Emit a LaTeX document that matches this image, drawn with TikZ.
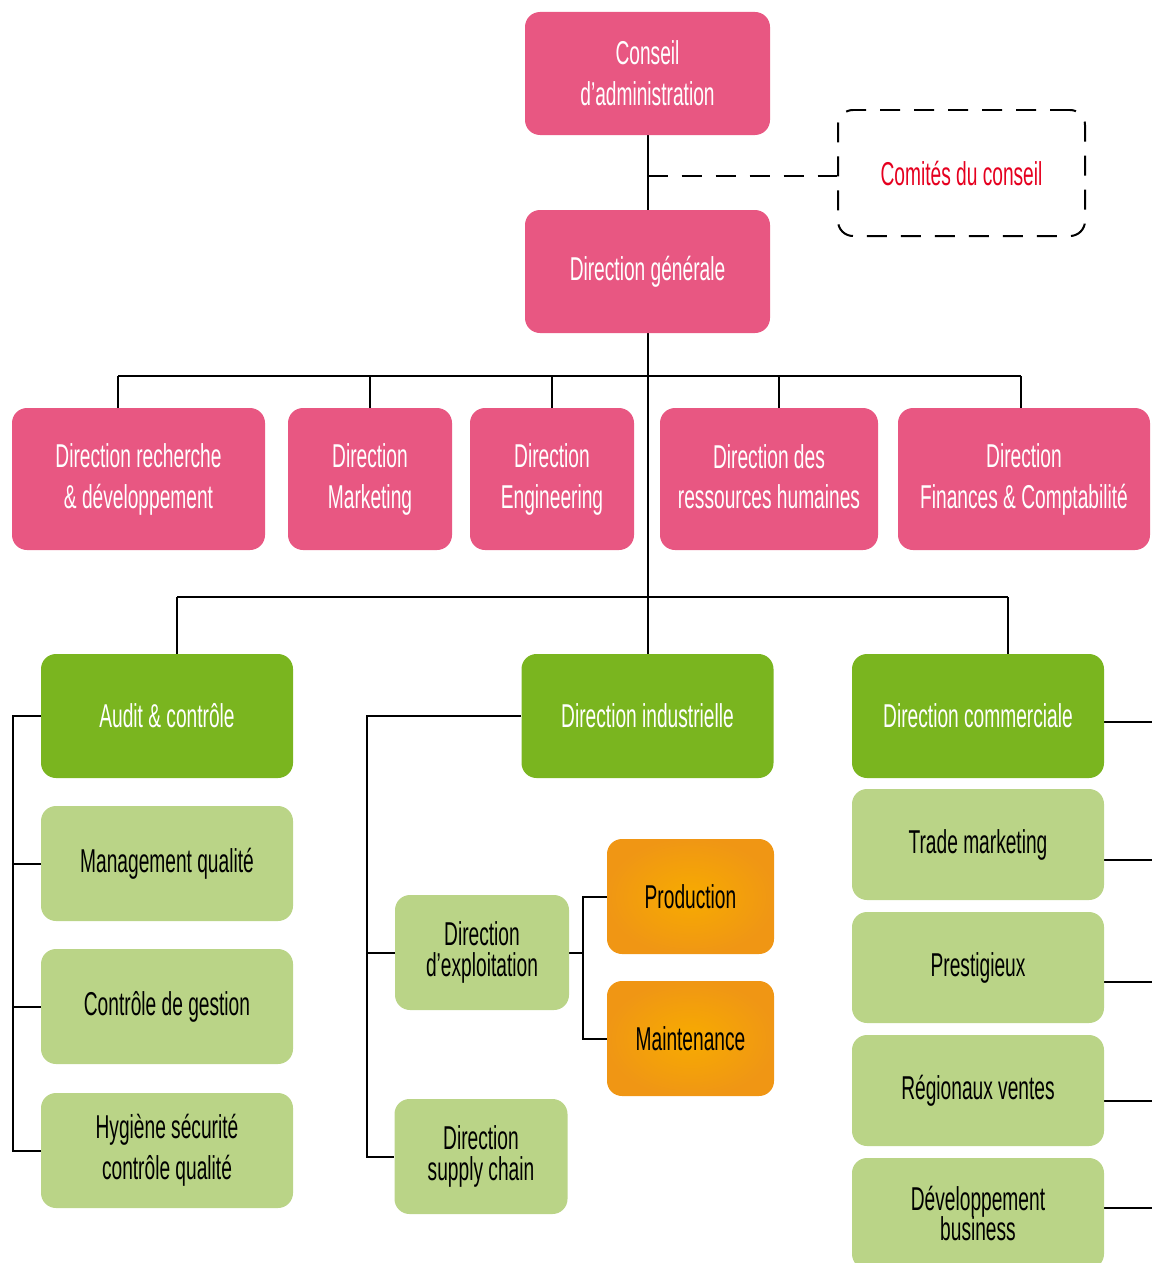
\documentclass[tikz,border=0pt]{standalone}
\usepackage{fontspec}
\setmainfont{Liberation Sans}[FakeStretch=0.58]
\usepackage{tikz}
\usetikzlibrary{shapes}
\pgfdeclarelayer{edgelayer}
\pgfdeclarelayer{nodelayer}
\pgfsetlayers{edgelayer,nodelayer,main}
\tikzstyle{none}=[inner sep=0pt]
\definecolor{rose}{rgb}{0.91,0.34,0.51}
\definecolor{darkgreen}{rgb}{0.48,0.71,0.12}
\definecolor{lightgreen}{rgb}{0.73,0.83,0.53}
\definecolor{orangein}{rgb}{0.97,0.67,0.0}
\definecolor{orangeout}{rgb}{0.94,0.59,0.08}
\definecolor{comitered}{rgb}{0.9,0.0,0.12}
\newcommand{\boxfont}{\fontsize{18.8}{23.3}\selectfont}
\newcommand{\tightfont}{\fontsize{18.8}{17.6}\selectfont}
\tikzstyle{box}=[rectangle, rounded corners=0.3cm, align=center, inner sep=0pt, font=\boxfont]
\tikzstyle{rosebox}=[box, fill=rose, text=white]
\tikzstyle{greenbox}=[box, fill=darkgreen, text=white]
\tikzstyle{lightbox}=[box, fill=lightgreen, text=black]
\tikzstyle{orangebox}=[box, inner color=orangein, outer color=orangeout, text=black]
\tikzstyle{link}=[line width=0.04cm, black]

\begin{document}
\begin{tikzpicture}
    \useasboundingbox (0,0) rectangle (23.02,-25.26);
    \begin{pgfonlayer}{nodelayer}
	\node [style=rosebox, minimum width=4.9cm, minimum height=2.46cm] (0) at (12.95, -1.47) {Conseil\\d'administration};
	\node [style=box, draw=black, line width=0.04cm, dash pattern=on 0.4cm off 0.28cm, text=comitered, minimum width=4.94cm, minimum height=2.52cm] (1) at (19.23, -3.46) {Comités du conseil};
	\node [style=rosebox, minimum width=4.9cm, minimum height=2.46cm] (2) at (12.95, -5.43) {Direction générale};
	\node [style=rosebox, minimum width=5.06cm, minimum height=2.84cm] (3) at (2.77, -9.58) {Direction recherche\\\& développement};
	\node [style=rosebox, minimum width=3.28cm, minimum height=2.84cm] (4) at (7.40, -9.58) {Direction\\Marketing};
	\node [style=rosebox, minimum width=3.28cm, minimum height=2.84cm] (5) at (11.04, -9.58) {Direction\\Engineering};
	\node [style=rosebox, minimum width=4.36cm, minimum height=2.84cm, text depth=0.1cm] (6) at (15.38, -9.58) {Direction des\\ressources humaines};
	\node [style=rosebox, minimum width=5.04cm, minimum height=2.84cm] (7) at (20.48, -9.58) {Direction\\Finances \& Comptabilité};
	\node [style=greenbox, minimum width=5.04cm, minimum height=2.48cm] (8) at (3.34, -14.32) {Audit \& contrôle};
	\node [style=greenbox, minimum width=5.04cm, minimum height=2.48cm] (9) at (12.95, -14.32) {Direction industrielle};
	\node [style=greenbox, minimum width=5.04cm, minimum height=2.48cm] (10) at (19.56, -14.32) {Direction commerciale};
	\node [style=lightbox, minimum width=5.04cm, minimum height=2.3cm] (11) at (3.34, -17.27) {Management qualité};
	\node [style=lightbox, minimum width=5.04cm, minimum height=2.3cm] (12) at (3.34, -20.13) {Contrôle de gestion};
	\node [style=lightbox, minimum width=5.04cm, minimum height=2.3cm] (13) at (3.34, -23.01) {Hygiène sécurité\\contrôle qualité};
	\node [style=lightbox, font=\tightfont, minimum width=3.48cm, minimum height=2.3cm] (14) at (9.64, -19.05) {Direction\\d'exploitation};
	\node [style=lightbox, font=\tightfont, minimum width=3.46cm, minimum height=2.3cm] (15) at (9.62, -23.13) {Direction\\supply chain};
	\node [style=orangebox, minimum width=3.34cm, minimum height=2.3cm] (16) at (13.81, -17.93) {Production};
	\node [style=orangebox, minimum width=3.34cm, minimum height=2.3cm] (17) at (13.81, -20.77) {Maintenance};
	\node [style=lightbox, minimum width=5.04cm, minimum height=2.22cm] (18) at (19.56, -16.89) {Trade marketing};
	\node [style=lightbox, minimum width=5.04cm, minimum height=2.22cm] (19) at (19.56, -19.35) {Prestigieux};
	\node [style=lightbox, minimum width=5.04cm, minimum height=2.22cm] (20) at (19.56, -21.81) {Régionaux ventes};
	\node [style=lightbox, font=\tightfont, minimum width=5.04cm, minimum height=2.22cm] (21) at (19.56, -24.27) {Développement\\business};
	\node [style=none] (22) at (12.95, -3.52) {};
	\node [style=none] (23) at (12.95, -11.94) {};
	\node [style=none] (24) at (2.36, -7.52) {};
	\node [style=none] (25) at (20.42, -7.52) {};
	\node [style=none] (26) at (15.58, -7.52) {};
	\node [style=none] (27) at (3.54, -11.94) {};
	\node [style=none] (28) at (20.16, -11.94) {};
	\node [style=none] (29) at (0.26, -23.01) {};
	\node [style=none] (30) at (7.34, -23.13) {};
	\node [style=none] (31) at (11.66, -19.05) {};
	\node [style=none] (32) at (23.1, -14.44) {};
	\node [style=none] (33) at (23.1, -17.2) {};
	\node [style=none] (34) at (23.1, -19.64) {};
	\node [style=none] (35) at (23.1, -22.02) {};
	\node [style=none] (36) at (23.1, -24.16) {};
    \end{pgfonlayer}
    \begin{pgfonlayer}{edgelayer}
	\draw [style=link] (0.south) to (2.north);
	\draw [style=link, dash pattern=on 0.4cm off 0.28cm] (22.center) to (22.center -| 1.west);
	\draw [style=link] (2.south) to (23.center);
	\draw [style=link] (24.center) to (25.center);
	\draw [style=link] (24.center) to (24.center |- 3.north);
	\draw [style=link] (4.north |- 24.center) to (4.north);
	\draw [style=link] (5.north |- 24.center) to (5.north);
	\draw [style=link] (26.center) to (26.center |- 6.north);
	\draw [style=link] (25.center) to (25.center |- 7.north);
	\draw [style=link] (27.center) to (28.center);
	\draw [style=link] (27.center) to (27.center |- 8.north);
	\draw [style=link] (23.center) to (9.north);
	\draw [style=link] (28.center) to (28.center |- 10.north);
	\draw [style=link] (8.west) -| (29.center) to (13.west);
	\draw [style=link] (11.west) to (11.west -| 29.center);
	\draw [style=link] (12.west) to (12.west -| 29.center);
	\draw [style=link] (9.west) -| (30.center) to (15.west);
	\draw [style=link] (14.west) to (14.west -| 30.center);
	\draw [style=link] (14.east) to (31.center);
	\draw [style=link] (16.west) -| (31.center) |- (17.west);
	\draw [style=link] (32.center) to (32.center -| 10.east);
	\draw [style=link] (33.center) to (33.center -| 18.east);
	\draw [style=link] (34.center) to (34.center -| 19.east);
	\draw [style=link] (35.center) to (35.center -| 20.east);
	\draw [style=link] (36.center) to (36.center -| 21.east);
    \end{pgfonlayer}
\end{tikzpicture}
\end{document}
